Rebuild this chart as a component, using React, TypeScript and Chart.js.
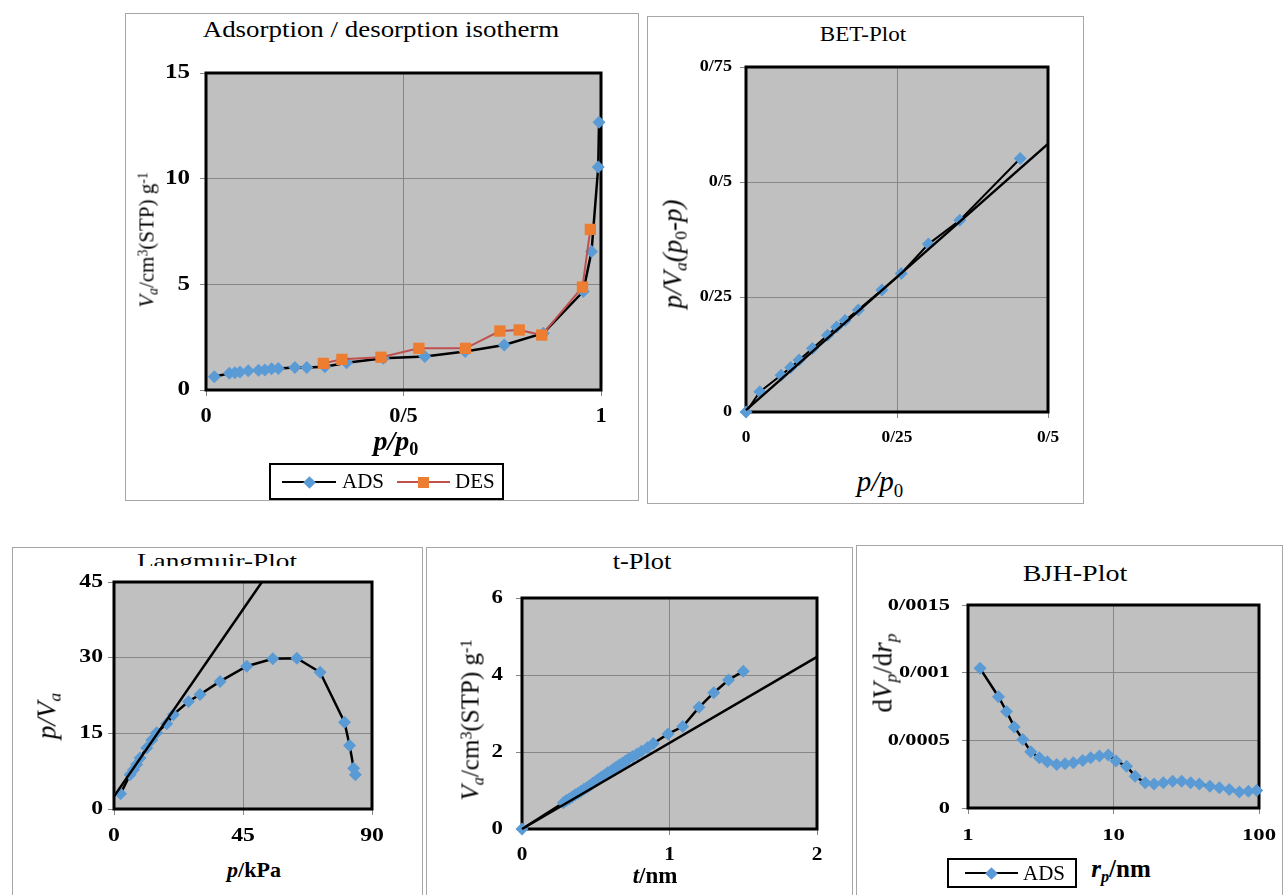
import React, { useEffect, useRef } from 'react';
import { Chart, registerables } from 'chart.js';

Chart.register(...registerables);

const SERIF = '"Liberation Serif", "Times New Roman", serif';
const BLUE = '#5B9BD5';
const ORANGE = '#ED7D31';
const RED = '#C0504D';
const PLOT_BG = '#C0C0C0';
const GRID = '#868686';
const PANEL_LINE = '#A6A6A6';

// Adsorption / desorption isotherm
const ADS_P = [0.021, 0.059, 0.073, 0.086, 0.107, 0.133, 0.149, 0.166, 0.183, 0.225, 0.255, 0.301, 0.356, 0.449, 0.554, 0.656, 0.755, 0.854, 0.955, 0.976, 0.993, 0.995];
const ADS_V = [0.63, 0.79, 0.82, 0.85, 0.91, 0.93, 0.95, 1.0, 1.02, 1.07, 1.07, 1.1, 1.29, 1.5, 1.58, 1.82, 2.13, 2.69, 4.66, 6.55, 10.55, 12.67];
const DES_P = [0.297, 0.344, 0.443, 0.539, 0.657, 0.744, 0.793, 0.85, 0.953, 0.973];
const DES_V = [1.26, 1.45, 1.55, 1.97, 1.97, 2.79, 2.84, 2.6, 4.87, 7.6];
const ISO_X_TICKS = [0, 0.5, 1];
const ISO_X_LABELS = ['0', '0/5', '1'];
const ISO_Y_TICKS = [0, 5, 10, 15];
const ISO_Y_LABELS = ['0', '5', '10', '15'];

// BET
const BET_X = [0, 0.023, 0.058, 0.074, 0.088, 0.11, 0.135, 0.15, 0.164, 0.186, 0.225, 0.257, 0.302, 0.354, 0.454];
const BET_Y = [0, 0.044, 0.08, 0.097, 0.113, 0.138, 0.167, 0.185, 0.199, 0.222, 0.265, 0.301, 0.365, 0.417, 0.551];
const BET_FIT_X = [0, 0.5];
const BET_FIT_Y = [0.004, 0.583];
const BET_X_TICKS = [0, 0.25, 0.5];
const BET_X_LABELS = ['0', '0/25', '0/5'];
const BET_Y_TICKS = [0, 0.25, 0.5, 0.75];
const BET_Y_LABELS = ['0', '0/25', '0/5', '0/75'];

// Langmuir
const LANG_P = [2.3, 5.6, 6.8, 7.9, 9.1, 11.4, 13.2, 14.9, 18.4, 20.7, 26, 30, 37, 46.3, 55.4, 63.8, 71.9, 80.4, 82.2, 83.6, 84.2];
const LANG_Y = [3.04, 6.8, 7.8, 8.8, 10.1, 12.1, 13.7, 15.1, 16.9, 18.7, 21.3, 22.7, 25.3, 28.3, 29.8, 29.9, 27.1, 17.2, 12.6, 8.1, 6.8];
const LANG_FIT_P = [0, 51.6];
const LANG_FIT_Y = [2.5, 45];
const LANG_X_TICKS = [0, 45, 90];
const LANG_X_LABELS = ['0', '45', '90'];
const LANG_Y_TICKS = [0, 15, 30, 45];
const LANG_Y_LABELS = ['0', '15', '30', '45'];

// t-plot
const T_T = [0, 0.28, 0.3, 0.32, 0.34, 0.36, 0.38, 0.4, 0.42, 0.44, 0.46, 0.48, 0.5, 0.52, 0.54, 0.56, 0.58, 0.6, 0.62, 0.64, 0.66, 0.68, 0.7, 0.72, 0.75, 0.78, 0.81, 0.85, 0.89, 0.99, 1.09, 1.2, 1.3, 1.4, 1.5];
const T_V = [0, 0.68, 0.74, 0.78, 0.83, 0.89, 0.93, 0.98, 1.03, 1.08, 1.13, 1.19, 1.24, 1.3, 1.35, 1.4, 1.46, 1.5, 1.56, 1.61, 1.66, 1.71, 1.76, 1.81, 1.88, 1.95, 2.02, 2.11, 2.22, 2.47, 2.66, 3.16, 3.54, 3.87, 4.1];
const T_FIT_T = [0, 2];
const T_FIT_V = [0, 4.47];
const T_X_TICKS = [0, 1, 2];
const T_X_LABELS = ['0', '1', '2'];
const T_Y_TICKS = [0, 2, 4, 6];
const T_Y_LABELS = ['0', '2', '4', '6'];

// BJH
const BJH_R = [1.21, 1.62, 1.84, 2.08, 2.38, 2.7, 3.09, 3.51, 4.07, 4.64, 5.3, 6.14, 6.97, 8.0, 9.2, 10.4, 12.3, 14.1, 16.5, 19.0, 22.0, 25.5, 29.4, 33.9, 38.9, 46.0, 53.4, 62.5, 73.3, 84.5, 96.4];
const BJH_D = [0.001032, 0.000822, 0.000713, 0.000599, 0.000507, 0.000416, 0.000371, 0.000342, 0.000322, 0.000327, 0.000334, 0.000351, 0.000371, 0.000384, 0.000391, 0.000347, 0.000309, 0.000235, 0.000186, 0.000178, 0.000186, 0.000198, 0.000198, 0.000186, 0.000178, 0.000161, 0.000149, 0.000136, 0.000119, 0.000124, 0.000129];
const BJH_X_TICKS = [1, 10, 100];
const BJH_X_LABELS = ['1', '10', '100'];
const BJH_Y_TICKS = [0, 0.0005, 0.001, 0.0015];
const BJH_Y_LABELS = ['0', '0/0005', '0/001', '0/0015'];

const pts = (xs: number[], ys: number[]) => xs.map((x, i) => ({ x, y: ys[i] }));

type Box = { x: number; y: number; w: number; h: number };
type Pad = { l: number; t: number; r: number; b: number };
// font: label size, sx: horizontal stretch of the label glyphs, gap: distance of label centre / right edge from the plot frame
type AxisDef = { min: number; max: number; ticks: number[]; labels: string[]; log?: boolean; font: number; sx: number; gap: number };
type PlotDef = { area: Box; pad: Pad; x: AxisDef; y: AxisDef; datasets: any[] };

const dataLine = (data: any[]) => ({
  data,
  showLine: true,
  borderColor: '#000',
  borderWidth: 2.5,
  tension: 0,
  pointStyle: 'rectRot',
  pointRadius: 6.5,
  pointBackgroundColor: BLUE,
  pointBorderColor: BLUE,
  pointBorderWidth: 0,
  clip: false,
});

const fitLine = (data: any[]) => ({
  data,
  showLine: true,
  borderColor: '#000',
  borderWidth: 2.5,
  tension: 0,
  pointRadius: 0,
  clip: false,
});

// Grey plot background under the grid, heavy black frame under the markers
const framePlugin = {
  id: 'plotFrame',
  beforeDraw(chart: any) {
    const { ctx, chartArea } = chart;
    ctx.save();
    ctx.fillStyle = PLOT_BG;
    ctx.fillRect(chartArea.left, chartArea.top, chartArea.width, chartArea.height);
    ctx.restore();
  },
  beforeDatasetsDraw(chart: any) {
    const { ctx, chartArea } = chart;
    ctx.save();
    ctx.lineWidth = 3;
    ctx.strokeStyle = '#000';
    ctx.strokeRect(chartArea.left, chartArea.top, chartArea.width, chartArea.height);
    ctx.restore();
  },
};

// Bold, slightly widened tick labels placed at the scale's own pixel positions
function tickTextPlugin(def: PlotDef) {
  return {
    id: 'tickText',
    afterDraw(chart: any) {
      const { ctx, chartArea } = chart;
      const draw = (axis: AxisDef, horizontal: boolean, scale: any) => {
        ctx.save();
        ctx.font = `bold ${axis.font}px ${SERIF}`;
        ctx.fillStyle = '#000';
        ctx.textBaseline = 'middle';
        ctx.textAlign = horizontal ? 'center' : 'right';
        axis.ticks.forEach((v, i) => {
          const p = scale.getPixelForValue(v);
          const x = horizontal ? p : chartArea.left - axis.gap;
          const y = horizontal ? chartArea.bottom + axis.gap : p;
          ctx.save();
          ctx.translate(x, y);
          ctx.scale(axis.sx, 1);
          ctx.fillText(axis.labels[i], 0, 0);
          ctx.restore();
        });
        ctx.restore();
      };
      draw(def.x, true, chart.scales.x);
      draw(def.y, false, chart.scales.y);
    },
  };
}

function makeScale(a: AxisDef, horizontal: boolean, size: number) {
  return {
    type: a.log ? 'logarithmic' : 'linear',
    position: horizontal ? 'bottom' : 'left',
    min: a.min,
    max: a.max,
    afterBuildTicks: (s: any) => {
      s.ticks = a.ticks.map((value) => ({ value }));
    },
    afterFit: (s: any) => {
      if (horizontal) s.height = size;
      else s.width = size;
    },
    grid: { color: GRID, lineWidth: 1, tickLength: 6, drawTicks: true },
    border: { display: false },
    ticks: { display: false, autoSkip: false },
  };
}

function Plot({ def }: { def: PlotDef }) {
  const ref = useRef<HTMLCanvasElement>(null);
  const { area, pad } = def;
  const W = area.w + pad.l + pad.r;
  const H = area.h + pad.t + pad.b;
  useEffect(() => {
    const chart = new Chart(ref.current as HTMLCanvasElement, {
      type: 'scatter',
      data: { datasets: def.datasets },
      options: {
        responsive: false,
        animation: false,
        devicePixelRatio: 1,
        events: [],
        layout: { padding: { left: 0, top: pad.t, right: pad.r, bottom: 0 } },
        scales: { x: makeScale(def.x, true, pad.b), y: makeScale(def.y, false, pad.l) } as any,
        plugins: { legend: { display: false }, tooltip: { enabled: false } },
      },
      plugins: [framePlugin, tickTextPlugin(def)],
    } as any);
    return () => chart.destroy();
  }, []);
  return (
    <canvas
      ref={ref}
      width={W}
      height={H}
      style={{ position: 'absolute', left: area.x - pad.l, top: area.y - pad.t, width: W, height: H }}
    />
  );
}

const isoPlot: PlotDef = {
  area: { x: 206, y: 73, w: 395, h: 317 },
  pad: { l: 75, t: 20, r: 30, b: 40 },
  x: { min: 0, max: 1, ticks: ISO_X_TICKS, labels: ISO_X_LABELS, font: 20, sx: 1.12, gap: 27 },
  y: { min: 0, max: 15, ticks: ISO_Y_TICKS, labels: ISO_Y_LABELS, font: 20.5, sx: 1.22, gap: 16 },
  datasets: [
    { ...dataLine(pts(DES_P, DES_V)), borderColor: RED, borderWidth: 2, pointStyle: 'rect', pointRadius: 8, pointBackgroundColor: ORANGE, pointBorderColor: ORANGE },
    dataLine(pts(ADS_P, ADS_V)),
  ],
};

const betPlot: PlotDef = {
  area: { x: 746, y: 67, w: 302, h: 345 },
  pad: { l: 85, t: 20, r: 35, b: 45 },
  x: { min: 0, max: 0.5, ticks: BET_X_TICKS, labels: BET_X_LABELS, font: 17, sx: 1.02, gap: 26 },
  y: { min: 0, max: 0.75, ticks: BET_Y_TICKS, labels: BET_Y_LABELS, font: 16.5, sx: 1.1, gap: 14 },
  datasets: [fitLine(pts(BET_FIT_X, BET_FIT_Y)), { ...dataLine(pts(BET_X, BET_Y)), borderWidth: 2 }],
};

const langPlot: PlotDef = {
  area: { x: 114, y: 582, w: 258, h: 227 },
  pad: { l: 70, t: 15, r: 30, b: 40 },
  x: { min: 0, max: 90, ticks: LANG_X_TICKS, labels: LANG_X_LABELS, font: 18.5, sx: 1.28, gap: 27 },
  y: { min: 0, max: 45, ticks: LANG_Y_TICKS, labels: LANG_Y_LABELS, font: 18.5, sx: 1.28, gap: 11 },
  datasets: [fitLine(pts(LANG_FIT_P, LANG_FIT_Y)), dataLine(pts(LANG_P, LANG_Y))],
};

const tPlot: PlotDef = {
  area: { x: 522, y: 598, w: 295, h: 231 },
  pad: { l: 60, t: 15, r: 30, b: 40 },
  x: { min: 0, max: 2, ticks: T_X_TICKS, labels: T_X_LABELS, font: 19, sx: 1.12, gap: 26 },
  y: { min: 0, max: 6, ticks: T_Y_TICKS, labels: T_Y_LABELS, font: 19, sx: 1.2, gap: 19 },
  datasets: [fitLine(pts(T_FIT_T, T_FIT_V)), dataLine(pts(T_T, T_V))],
};

const bjhPlot: PlotDef = {
  area: { x: 968, y: 605, w: 291, h: 203 },
  pad: { l: 95, t: 15, r: 25, b: 40 },
  x: { min: 1, max: 100, log: true, ticks: BJH_X_TICKS, labels: BJH_X_LABELS, font: 17.5, sx: 1.3, gap: 27 },
  y: { min: 0, max: 0.0015, ticks: BJH_Y_TICKS, labels: BJH_Y_LABELS, font: 17.5, sx: 1.28, gap: 18 },
  datasets: [dataLine(pts(BJH_R, BJH_D))],
};

const Sub = ({ children }: { children: React.ReactNode }) => (
  <span style={{ fontSize: '0.65em', position: 'relative', top: '0.3em' }}>{children}</span>
);
const Sup = ({ children }: { children: React.ReactNode }) => (
  <span style={{ fontSize: '0.65em', position: 'relative', top: '-0.45em' }}>{children}</span>
);

type TxtProps = { x: number; y: number; size: number; rot?: number; bold?: boolean; italic?: boolean; sx?: number; children: React.ReactNode };
function Txt({ x, y, size, rot = 0, bold, italic, sx = 1, children }: TxtProps) {
  return (
    <div
      style={{
        position: 'absolute',
        left: x,
        top: y,
        transform: `translate(-50%, -50%) rotate(${rot}deg) scaleX(${sx})`,
        fontFamily: SERIF,
        fontSize: size,
        fontWeight: bold ? 'bold' : 'normal',
        fontStyle: italic ? 'italic' : 'normal',
        whiteSpace: 'nowrap',
        lineHeight: 1,
        color: '#000',
      }}
    >
      {children}
    </div>
  );
}

function Frame({ x, y, w, h }: Box) {
  return <div style={{ position: 'absolute', left: x, top: y, width: w, height: h, border: `1px solid ${PANEL_LINE}`, boxSizing: 'border-box' }} />;
}

function LegendKey({ x, y, len, color, marker }: { x: number; y: number; len: number; color: string; marker: 'diamond' | 'square' }) {
  const m = marker === 'diamond' ? 9 : 11;
  return (
    <>
      <div style={{ position: 'absolute', left: x, top: y - 1.25, width: len, height: 2.5, background: color }} />
      <div
        style={{
          position: 'absolute',
          left: x + len / 2 - m / 2,
          top: y - m / 2,
          width: m,
          height: m,
          background: marker === 'diamond' ? BLUE : ORANGE,
          transform: marker === 'diamond' ? 'rotate(45deg)' : 'none',
        }}
      />
    </>
  );
}

export default function App() {
  return (
    <div style={{ position: 'absolute', left: 0, top: 0, width: 1284, height: 895, overflow: 'hidden', background: '#fff' }}>
      <Frame x={125} y={13} w={514} h={488} />
      <Frame x={647} y={16} w={437} h={488} />
      <Frame x={12} y={547} w={411} h={400} />
      <Frame x={426} y={547} w={427} h={400} />
      <Frame x={856} y={545} w={427} h={400} />

      <Plot def={isoPlot} />
      <Plot def={betPlot} />
      <Plot def={langPlot} />
      <Plot def={tPlot} />
      <Plot def={bjhPlot} />

      {/* isotherm texts */}
      <Txt x={381} y={29} size={23} sx={1.17}>Adsorption / desorption isotherm</Txt>
      <Txt x={147} y={240} size={21} rot={-90}>
        <i>V</i><Sub><i>a</i></Sub>/cm<Sup>3</Sup>(STP) g<Sup>-1</Sup>
      </Txt>
      <Txt x={396} y={441} size={28} italic bold>
        p/p<Sub><span style={{ fontStyle: 'normal' }}>0</span></Sub>
      </Txt>
      <div style={{ position: 'absolute', left: 269, top: 463, width: 235, height: 37, border: '2px solid #000', boxSizing: 'border-box', background: '#fff' }} />
      <LegendKey x={282} y={482} len={54} color="#000" marker="diamond" />
      <div style={{ position: 'absolute', left: 342, top: 471, fontFamily: SERIF, fontSize: 21, lineHeight: 1 }}>ADS</div>
      <LegendKey x={397} y={482} len={53} color={RED} marker="square" />
      <div style={{ position: 'absolute', left: 455, top: 471, fontFamily: SERIF, fontSize: 21, lineHeight: 1 }}>DES</div>

      {/* BET texts */}
      <Txt x={863} y={34} size={22} sx={1.05}>BET-Plot</Txt>
      <Txt x={673} y={254} size={27} rot={-90} italic>
        p/V<Sub>a</Sub>(p<Sub><span style={{ fontStyle: 'normal' }}>0</span></Sub>-p)
      </Txt>
      <Txt x={880} y={481} size={29} italic>
        p/p<Sub><span style={{ fontStyle: 'normal' }}>0</span></Sub>
      </Txt>

      {/* Langmuir texts */}
      <div style={{ position: 'absolute', left: 13, top: 548, width: 409, height: 18, overflow: 'hidden' }}>
        <div style={{ position: 'absolute', left: 204, top: 2, transform: 'translateX(-50%) scaleX(1.24)', fontFamily: SERIF, fontSize: 22, lineHeight: '22px', whiteSpace: 'nowrap' }}>
          Langmuir-Plot
        </div>
      </div>
      <Txt x={47} y={716} size={27} rot={-90} italic>
        p/V<Sub>a</Sub>
      </Txt>
      <Txt x={254} y={870} size={21} bold sx={1.05}>
        <i>p</i>/kPa
      </Txt>

      {/* t-plot texts */}
      <Txt x={642} y={561} size={24} sx={1.1}>t-Plot</Txt>
      <Txt x={470} y={720} size={25} rot={-90}>
        <i>V</i><Sub><i>a</i></Sub>/cm<Sup>3</Sup>(STP) g<Sup>-1</Sup>
      </Txt>
      <Txt x={655} y={875} size={23} bold>
        <i>t</i>/nm
      </Txt>

      {/* BJH texts */}
      <Txt x={1075} y={573} size={24} sx={1.17}>BJH-Plot</Txt>
      <Txt x={883} y={673} size={27} rot={-90}>
        d<i>V</i><Sub><i>p</i></Sub>/d<i>r</i><Sub><i>p</i></Sub>
      </Txt>
      <Txt x={1121} y={868} size={25} bold>
        <i>r</i><Sub><i>p</i></Sub>/nm
      </Txt>
      <div style={{ position: 'absolute', left: 947, top: 858, width: 130, height: 30, border: '2px solid #000', boxSizing: 'border-box', background: '#fff' }} />
      <LegendKey x={965} y={873} len={53} color="#000" marker="diamond" />
      <div style={{ position: 'absolute', left: 1023, top: 863, fontFamily: SERIF, fontSize: 21, lineHeight: 1 }}>ADS</div>
    </div>
  );
}
